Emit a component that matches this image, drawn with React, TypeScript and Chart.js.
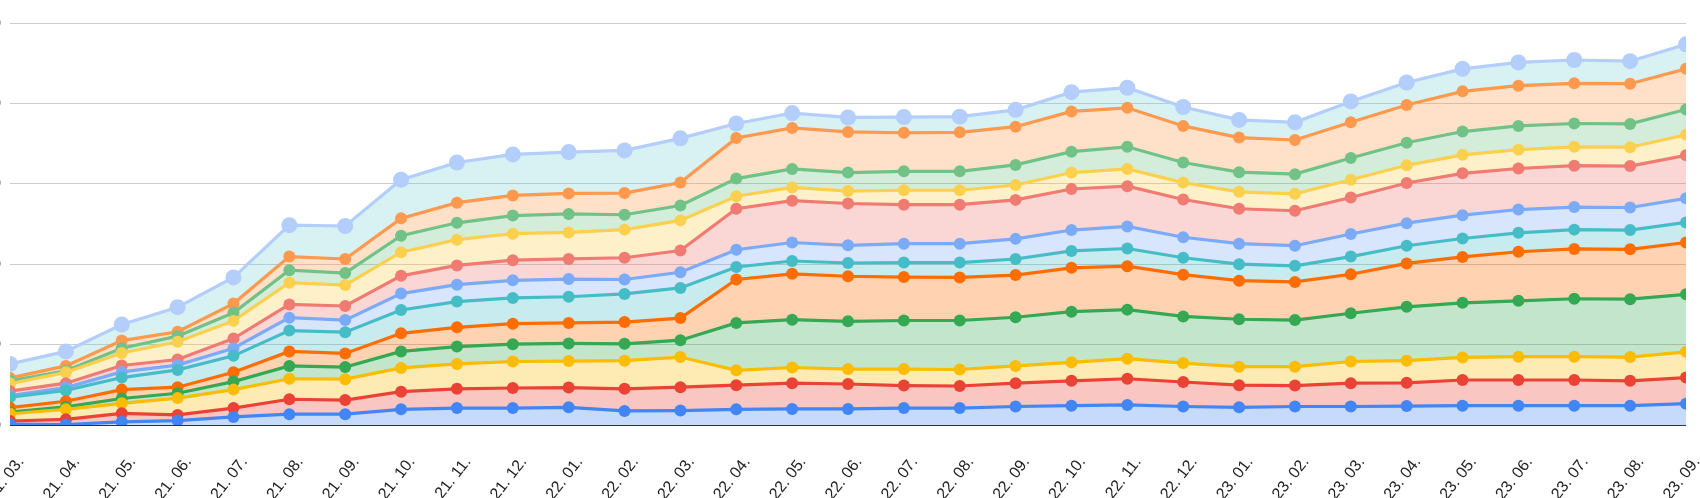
import React, { useEffect, useRef } from "react";
import { Chart, registerables } from "chart.js";

Chart.register(...registerables);

const categories = [
  "21. 03.", "21. 04.", "21. 05.", "21. 06.", "21. 07.", "21. 08.", "21. 09.", "21. 10.",
  "21. 11.", "21. 12.", "22. 01.", "22. 02.", "22. 03.", "22. 04.", "22. 05.", "22. 06.",
  "22. 07.", "22. 08.", "22. 09.", "22. 10.", "22. 11.", "22. 12.", "23. 01.", "23. 02.",
  "23. 03.", "23. 04.", "23. 05.", "23. 06.", "23. 07.", "23. 08.", "23. 09.",
];

const yTickLabels = ["0", "20", "40", "60", "80", "100"];

const series1 = [0.2, 0.1, 0.8, 1.1, 2.0, 2.7, 2.7, 3.9, 4.2, 4.2, 4.4, 3.5, 3.6, 3.9, 4.0, 4.0, 4.2, 4.2, 4.6, 4.8, 5.0, 4.6, 4.4, 4.6, 4.6, 4.7, 4.8, 4.8, 4.8, 4.8, 5.3];
const series2 = [0.8, 1.3, 2.1, 1.4, 2.2, 3.7, 3.5, 4.4, 4.8, 5.0, 4.9, 5.5, 5.8, 6.0, 6.4, 6.2, 5.6, 5.5, 5.8, 6.2, 6.5, 6.1, 5.5, 5.2, 5.8, 5.8, 6.4, 6.4, 6.4, 6.2, 6.5];
const series3 = [1.8, 2.5, 2.5, 4.2, 4.6, 5.1, 5.2, 5.9, 6.2, 6.6, 6.6, 7.0, 7.5, 3.7, 3.9, 3.7, 4.1, 4.1, 4.3, 4.6, 5.0, 4.7, 4.6, 4.7, 5.4, 5.5, 5.6, 5.8, 5.8, 5.9, 6.4];
const series4 = [0.4, 0.6, 1.2, 1.2, 2.0, 3.2, 3.0, 4.1, 4.3, 4.3, 4.4, 4.2, 4.2, 11.8, 11.9, 11.9, 12.1, 12.2, 12.1, 12.6, 12.2, 11.6, 11.8, 11.6, 12.0, 13.4, 13.6, 13.9, 14.4, 14.4, 14.3];
const series5 = [1.1, 1.4, 2.2, 1.5, 2.3, 3.6, 3.4, 4.5, 4.8, 5.1, 5.1, 5.4, 5.5, 10.8, 11.4, 11.2, 10.8, 10.7, 10.5, 10.9, 10.8, 10.4, 9.6, 9.5, 9.7, 10.8, 11.4, 12.2, 12.4, 12.4, 12.9];
const series6 = [2.6, 2.7, 3.0, 4.3, 4.1, 5.2, 5.3, 5.8, 6.4, 6.4, 6.5, 7.0, 7.5, 3.1, 3.2, 3.3, 3.6, 3.7, 4.0, 4.2, 4.4, 4.2, 4.1, 4.0, 4.4, 4.4, 4.6, 4.7, 4.8, 4.8, 5.0];
const series7 = [0.4, 0.7, 1.4, 1.2, 1.9, 3.2, 3.0, 4.1, 4.2, 4.4, 4.4, 3.6, 3.9, 4.3, 4.6, 4.4, 4.7, 4.7, 5.0, 5.2, 5.5, 5.1, 5.1, 5.0, 5.6, 5.6, 5.8, 5.8, 5.6, 5.6, 6.0];
const series8 = [1.1, 1.1, 1.6, 1.4, 2.4, 3.3, 3.5, 4.4, 4.8, 5.0, 5.0, 5.4, 5.4, 10.2, 10.4, 10.4, 9.7, 9.7, 9.7, 10.2, 10.0, 9.4, 8.7, 8.7, 9.1, 10.0, 10.4, 10.2, 10.3, 10.3, 10.7];
const series9 = [1.9, 2.7, 3.1, 4.4, 4.4, 5.4, 5.2, 5.9, 6.4, 6.6, 6.6, 7.0, 7.5, 3.1, 3.3, 3.1, 3.6, 3.6, 3.7, 4.1, 4.3, 4.2, 4.2, 4.2, 4.4, 4.4, 4.6, 4.7, 4.7, 4.7, 5.1];
const series10 = [0.7, 0.4, 1.2, 1.4, 2.0, 3.1, 3.0, 4.1, 4.2, 4.5, 4.6, 3.7, 3.7, 4.4, 4.6, 4.6, 4.7, 4.7, 5.0, 5.2, 5.5, 5.0, 4.9, 4.9, 5.4, 5.6, 5.8, 5.9, 5.8, 5.8, 6.3];
const series11 = [0.7, 1.2, 1.9, 1.1, 2.3, 3.4, 3.5, 4.3, 5.0, 5.0, 5.1, 5.4, 5.7, 10.1, 10.2, 10.1, 9.6, 9.7, 9.5, 10.0, 9.7, 9.1, 8.6, 8.5, 8.9, 9.4, 10.0, 10.0, 10.0, 10.0, 10.1];
const series12 = [3.5, 3.6, 4.0, 6.1, 6.5, 7.8, 8.2, 9.6, 10.0, 10.2, 10.3, 10.6, 11.0, 3.6, 3.7, 3.6, 3.9, 3.9, 4.2, 4.8, 5.0, 4.7, 4.4, 4.4, 5.2, 5.6, 5.6, 5.8, 5.8, 5.6, 6.1];

const allSeries = [series1, series2, series3, series4, series5, series6, series7, series8, series9, series10, series11, series12];
const lineColors = ["#4285F4", "#EA4335", "#FBBC04", "#34A853", "#FF6D01", "#46BDC6", "#7BAAF7", "#F07B72", "#FCD04F", "#71C287", "#FF994D", "#B3CEFB"];
const fillColors = ["#4285F4", "#EA4335", "#FBBC04", "#34A853", "#FF6D01", "#46BDC6", "#7BAAF7", "#F07B72", "#FCD04F", "#71C287", "#FF994D", "#7ED1D7"];

function alpha(hex: string, a: number) {
  const r = parseInt(hex.slice(1, 3), 16);
  const g = parseInt(hex.slice(3, 5), 16);
  const b = parseInt(hex.slice(5, 7), 16);
  return `rgba(${r},${g},${b},${a})`;
}

export default function App() {
  const ref = useRef<HTMLCanvasElement | null>(null);
  useEffect(() => {
    if (!ref.current) return;
    const datasets = allSeries.map((data, i) => {
      const last = i === allSeries.length - 1;
      return {
        label: `S${i + 1}`,
        data,
        borderColor: lineColors[i],
        backgroundColor: alpha(fillColors[i], 0.3),
        pointBackgroundColor: lineColors[i],
        pointBorderWidth: 0,
        pointRadius: last ? 8 : 6,
        borderWidth: 3.2,
        fill: i === 0 ? "origin" : "-1",
        tension: 0,
        clip: 0,
      };
    });
    const chart = new Chart(ref.current, {
      type: "line",
      data: { labels: categories, datasets },
      options: {
        animation: false,
        responsive: true,
        maintainAspectRatio: false,
        layout: { padding: { top: 23, right: 14, left: 0, bottom: 0 } },
        plugins: {
          legend: { display: false },
          tooltip: { enabled: false },
          filler: { drawTime: "beforeDatasetsDraw" },
        },
        scales: {
          x: {
            offset: false,
            grid: { display: false, drawTicks: false },
            border: { display: false },
            ticks: {
              autoSkip: false,
              minRotation: 52,
              maxRotation: 52,
              color: "#222",
              padding: 28,
              labelOffset: 11,
              font: { family: "'Liberation Sans', Arial", size: 16 },
            },
            afterFit: (scale: any) => {
              scale.height = 73;
              scale.paddingLeft = 0;
              scale.paddingRight = 0;
            },
          },
          y: {
            stacked: true,
            min: 0,
            max: 100,
            border: { display: false },
            grid: {
              drawTicks: false,
              color: (ctx: any) => (ctx.tick && ctx.tick.value === 0 ? "#333" : "#ccc"),
              lineWidth: 1,
            },
            ticks: {
              stepSize: 20,
              padding: 9,
              color: "#444",
              font: { family: "'Liberation Sans', Arial", size: 13 },
              callback: (_v: any, idx: number) => yTickLabels[idx],
            },
            afterFit: (scale: any) => {
              scale.width = 110;
              scale.paddingTop = 0;
              scale.paddingBottom = 0;
            },
          },
        },
      },
    });
    return () => chart.destroy();
  }, []);
  return (
    <div style={{ position: "fixed", left: 0, top: 0, width: 1700, height: 498, overflow: "hidden", background: "#fff" }}>
      <div style={{ position: "absolute", left: -100, top: 0, width: 1800, height: 498 }}>
        <canvas ref={ref} />
      </div>
    </div>
  );
}
